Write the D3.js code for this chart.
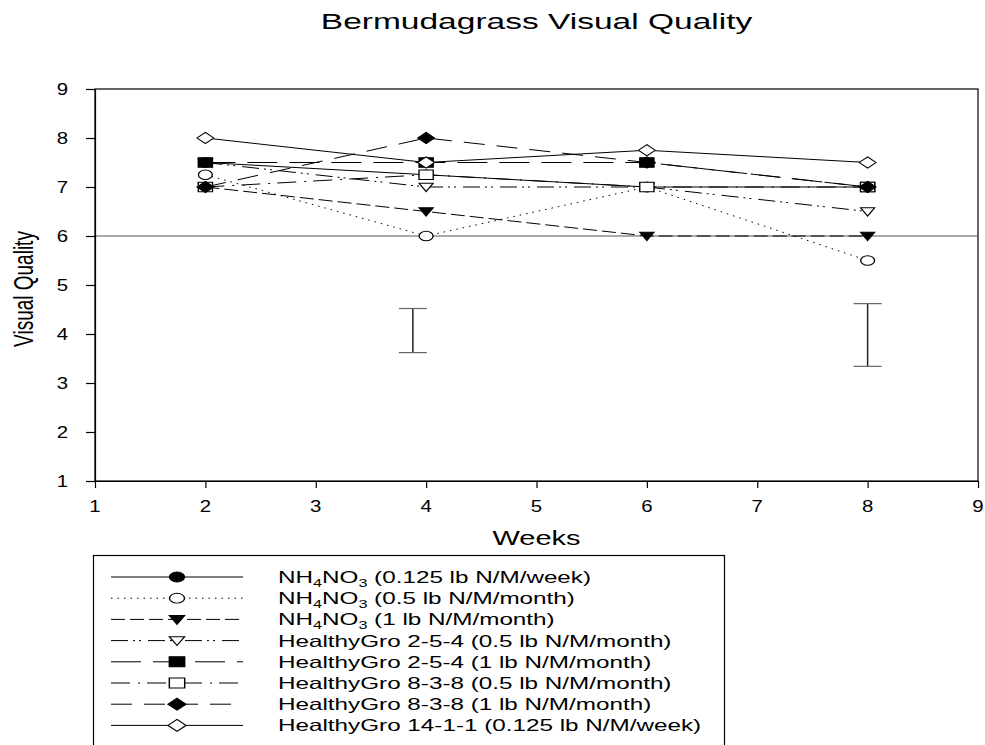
<!DOCTYPE html>
<html lang="en">
<head>
    <meta charset="UTF-8">
    <title>bermudagrass-quality</title>
    <style>
        body {
            margin: 0;
            background: #fff;
            font-family: "Liberation Sans", Arial, Helvetica, sans-serif;
        }
        text {
            fill: #000;
        }
    </style>
    <script src="https://d3js.org/d3.v7.min.js"></script>
</head>
<body>

<script>

    // data
    let weeks = [2, 4, 6, 8]
    let xTicks = [1, 2, 3, 4, 5, 6, 7, 8, 9]
    let yTicks = [1, 2, 3, 4, 5, 6, 7, 8, 9]

    let labels = [
        "NH_4NO_3 (0.125 lb N/M/week)",
        "NH_4NO_3 (0.5 lb N/M/month)",
        "NH_4NO_3 (1 lb N/M/month)",
        "HealthyGro 2-5-4 (0.5 lb N/M/month)",
        "HealthyGro 2-5-4 (1 lb N/M/month)",
        "HealthyGro 8-3-8 (0.5 lb N/M/month)",
        "HealthyGro 8-3-8 (1 lb N/M/month)",
        "HealthyGro 14-1-1 (0.125 lb N/M/week)"
    ]

    let nh4Weekly = [7.5, 7.25, 7, 7]
    let nh4Half = [7.25, 6, 7, 5.5]
    let nh4One = [7, 6.5, 6, 6]
    let hg254Half = [7.5, 7, 7, 6.5]
    let hg254One = [7.5, 7.5, 7.5, 7]
    let hg838Half = [7, 7.25, 7, 7]
    let hg838One = [7, 8, 7.5, 7]
    let hg1411 = [8, 7.5, 7.75, 7.5]
    let allSeries = [nh4Weekly, nh4Half, nh4One, hg254Half, hg254One, hg838Half, hg838One, hg1411]

    // error bars (LSD)
    let errX = [3.88, 8]
    let errLow = [3.62, 3.34]
    let errHigh = [4.52, 4.62]

    let refLine = 6

    // styles
    let dashes = ["none", "1.5,5", "14,5", "17,5,2,4,2,7", "30,12", "19,8,2,7", "21,12", "none"]
    let shapes = ["circle", "circle", "triangle", "triangle", "square", "square", "diamond", "diamond"]
    let filled = [true, false, true, false, true, false, true, false]

    let width = 985
    let height = 745
    let stretch = 1.47   // the original picture is stretched sideways

    let svg = d3.select("body").append("svg")
        .attr("width", width).attr("height", height)

    let x = d3.scaleLinear().domain([1, 9]).range([95, 978])
    let y = d3.scaleLinear().domain([1, 9]).range([481, 89])

    // custom marker shapes, drawn unstretched then scaled
    let markerTypes = {
        circle: {draw: function (c, s) { let r = s; c.moveTo(r, 0); c.arc(0, 0, r, 0, 2 * Math.PI) }},
        square: {draw: function (c, s) { c.rect(-s, -s, 2 * s, 2 * s) }},
        triangle: {draw: function (c, s) { c.moveTo(-s, -s * 0.78); c.lineTo(s, -s * 0.78); c.lineTo(0, s * 0.95); c.closePath() }},
        diamond: {draw: function (c, s) { let d = s * 1.18; c.moveTo(0, -d); c.lineTo(d, 0); c.lineTo(0, d); c.lineTo(-d, 0); c.closePath() }}
    }
    function markerPath(shape) {
        let size = shape === "circle" ? 4.7 : 4.8
        let p = d3.path()
        markerTypes[shape].draw(p, size)
        return p.toString()
    }

    function stretchedText(g, tx, ty, str, size, anchor, sx) {
        return g.append("text")
            .attr("transform", "translate(" + tx + "," + ty + ") scale(" + (sx || stretch) + ",1)")
            .attr("text-anchor", anchor)
            .style("font-size", size + "px")
            .text(str)
    }

    // frame
    svg.append("rect")
        .attr("x", x(1)).attr("y", y(9))
        .attr("width", x(9) - x(1)).attr("height", y(1) - y(9))
        .attr("fill", "none").attr("stroke", "#000").attr("stroke-width", 1.2)

    // reference line at 6
    svg.append("line")
        .attr("x1", x(1)).attr("x2", x(9))
        .attr("y1", y(refLine)).attr("y2", y(refLine))
        .attr("stroke", "#555").attr("stroke-width", 1)

    // axes
    let xAxis = svg.append("g")
        .attr("transform", "translate(0," + y(1) + ")")
        .call(d3.axisBottom(x).tickValues(xTicks).tickSize(7).tickSizeOuter(0).tickFormat(""))
    let yAxis = svg.append("g")
        .attr("transform", "translate(" + x(1) + ",0)")
        .call(d3.axisLeft(y).tickValues(yTicks).tickSize(9).tickSizeOuter(0).tickFormat(""))
    svg.selectAll(".domain, .tick line").attr("stroke", "#000").attr("stroke-width", 1.2)

    xTicks.forEach(function (t) {
        stretchedText(svg, x(t), 512, t, 17, "middle", 1.2)
    })
    yTicks.forEach(function (t) {
        stretchedText(svg, 68, y(t) + 6, t, 17, "end", 1.2)
    })

    // series lines
    let line = d3.line()
        .x(function (d, i) { return x(weeks[i]) })
        .y(function (d) { return y(d) })

    allSeries.forEach(function (vals, k) {
        svg.append("path")
            .datum(vals)
            .attr("d", line)
            .attr("fill", "none")
            .attr("stroke", "#000")
            .attr("stroke-width", 1)
            .attr("stroke-dasharray", dashes[k])
    })

    // markers
    allSeries.forEach(function (vals, k) {
        svg.append("g").selectAll("path")
            .data(vals)
            .enter()
            .append("path")
            .attr("d", markerPath(shapes[k]))
            .attr("transform", function (d, i) {
                return "translate(" + x(weeks[i]) + "," + y(d) + ") scale(1.48,1)"
            })
            .attr("fill", filled[k] ? "#000" : "#fff")
            .attr("stroke", "#000")
            .attr("stroke-width", 0.9)
    })

    // error bars
    errX.forEach(function (ex, i) {
        let g = svg.append("g").attr("stroke", "#222")
        g.append("line")
            .attr("x1", x(ex)).attr("x2", x(ex))
            .attr("y1", y(errLow[i])).attr("y2", y(errHigh[i]))
            .attr("stroke-width", 1.5)
        ;[errLow[i], errHigh[i]].forEach(function (v) {
            g.append("line")
                .attr("x1", x(ex) - 14).attr("x2", x(ex) + 14)
                .attr("y1", y(v)).attr("y2", y(v))
                .attr("stroke", "#666").attr("stroke-width", 1.2)
        })
    })

    // titles
    stretchedText(svg, (x(1) + x(9)) / 2, 29, "Bermudagrass Visual Quality", 22.5, "middle", 1.49)
    stretchedText(svg, (x(1) + x(9)) / 2, 545, "Weeks", 20, "middle", 1.45)
    // rotated label: the sideways stretch widens its glyph height instead
    svg.append("text")
        .attr("transform", "translate(33,289) rotate(-90) scale(1," + stretch + ")")
        .attr("text-anchor", "middle")
        .style("font-size", "19px")
        .text("Visual Quality")

    // legend
    let legend = svg.append("g")
    legend.append("rect")
        .attr("x", 93.5).attr("y", 555.5)
        .attr("width", 631).attr("height", 220)
        .attr("fill", "none").attr("stroke", "#000").attr("stroke-width", 1.2)

    labels.forEach(function (lab, k) {
        let ry = 577 + k * 21.2
        legend.append("line")
            .attr("x1", 111).attr("x2", 243)
            .attr("y1", ry).attr("y2", ry)
            .attr("stroke", "#000").attr("stroke-width", 1)
            .attr("stroke-dasharray", dashes[k])
        legend.append("path")
            .attr("d", markerPath(shapes[k]))
            .attr("transform", "translate(177," + ry + ") scale(1.6,1.05)")
            .attr("fill", filled[k] ? "#000" : "#fff")
            .attr("stroke", "#000").attr("stroke-width", 0.9)

        let t = legend.append("text")
            .attr("transform", "translate(278," + (ry + 6) + ") scale(" + stretch + ",1)")
            .style("font-size", "16.5px")
        let shift = 0
        lab.split(/(_\d)/).forEach(function (part) {
            if (part === "") return
            if (part[0] === "_") {
                t.append("tspan").attr("dy", 4 - shift).style("font-size", "11px").text(part.slice(1))
                shift = 4
            } else {
                t.append("tspan").attr("dy", -shift).text(part)
                shift = 0
            }
        })
    })

</script>

</body>
</html>
